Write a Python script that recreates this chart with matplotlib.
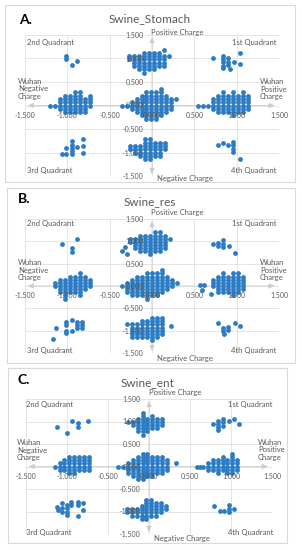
import matplotlib
matplotlib.use("Agg")
import matplotlib.pyplot as plt
from matplotlib.patches import Rectangle

plt.rcParams['font.family'] = ['Lato', 'DejaVu Sans']

W, H = 302, 550
DX, DY = 0.059, 0.07          # spacing of stacked dots in the grids below
BLUE = "#2b7cc4"
TXT = "#595959"
LINE = "#e0e0e0"

titles = ["Swine_Stomach", "Swine_res", "Swine_ent"]
letters = ["A.", "B.", "C."]
tick_values = [-1.5, -1.0, -0.5, 0.0, 0.5, 1.0, 1.5]
tick_labels = ["-1.500", "-1.000", "-0.500", "0.000", "0.500", "1.000", "1.500"]

# dense clusters: (x of first column, y of top row, rows) -- every "o" is one dot
a_grids = [
    (-0.27, 1.19, [".......o.", "...oooo..", "ooooooooo", "oooooooo.", ".ooooooo.",
                   ".ooooooo.", "..oooo...", "...o....."]),
    (-1.205, 0.28, [".....oo..", "...oooo.o", "..ooooooo", "..ooooooo", "ooooooooo",
                    "..oooooo.", "...ooooo."]),
    (-0.36, 0.35, ["........o...", ".....oooo...", "....oooooo..", "...ooooooooo",
                   "..ooooooooo.", "ooooooooooo.", "..ooooooooo.", "...ooooooo..",
                   "....ooooo...", ".....ooo...."]),
    (0.543, 0.28, [".....o.o.o.", "....ooooooo", "...oooooooo", "...oooooooo",
                   "ooooooooooo", "...oooooooo", "....oooooo.", ".......o..."]),
    (-0.26, -0.72, ["...oo...", "...ooooo", "oooooooo", "oooooooo", ".oooooo.",
                    "..ooooo.", "...oo..."]),
]
a_loose_x = [-1.01, -1.01, -0.95, -0.88,
             0.72, 0.84, 0.84, 0.84, 0.84, 0.84, 0.90, 0.90, 0.90, 0.92, 0.97, 1.04, 1.04,
             -1.067, -1.016, -1.016, -0.95, -0.95, -0.95, -0.95, -0.95, -0.89, -0.82, -0.82, -0.82,
             0.78, 0.84, 0.90, 0.96, 0.96, 0.96, 0.96, 1.04]
a_loose_y = [1.06, 0.99, 0.87, 0.94,
             1.0, 1.06, 0.99, 0.92, 0.85, 0.80, 1.0, 0.93, 0.86, 0.78, 0.93, 1.12, 0.88,
             -1.04, -0.90, -1.04, -0.76, -0.83, -0.90, -0.97, -1.04, -0.88, -0.72, -0.87, -1.01,
             -0.85, -0.79, -0.85, -0.78, -0.85, -0.92, -0.99, -1.13]

b_grids = [
    (-0.26, 1.20, [".....oo..", "..oooooo.", "ooooooooo", "oooooooo.", ".ooooooo.",
                   ".ooooooo.", "..ooooo..", "....o...."]),
    (-1.146, 0.28, [".....o..", "...oooo.", ".ooooooo", "oooooooo", "oooooooo",
                    ".oooooo.", ".ooooo..", "..o..o..", "..o....."]),
    (-0.35, 0.35, ["........o...", ".....oooo...", "...ooooooo..", "..ooooooooo.",
                   ".ooooooooooo", "ooooooooooo.", ".ooooooooo..", ".oooooooo...",
                   "..oooooo....", ".....o......"]),
    (0.72, 0.28, ["..o.oo.", ".oooooo", "ooooooo", "ooooooo", "ooooooo", ".oooooo",
                  ".ooooo.", "....o.."]),
    (-0.30, -0.72, [".....ooo", "...ooooo", "oooooooo", ".ooooooo", ".ooooooo",
                    ".ooooooo", ".oooooo.", ".....o.."]),
]
b_loose_x = [-1.067, -0.95, -0.95, -0.88, -0.36, -0.32, -0.29,
             0.72, 0.78, 0.78, 0.84, 0.84, 0.84, 0.91, 0.98,
             0.57, 0.62, 0.59, 0.70,
             -1.17, -1.13, -1.01, -1.01, -1.01, -1.01, -0.95, -0.95, -0.89, -0.89, -0.89,
             -0.83, -0.83, -0.83, 0.23,
             0.78, 0.84, 0.84, 0.85, 0.90, 0.90, 0.98, 1.04]
b_loose_y = [0.95, 0.84, 0.76, 1.06, 0.79, 0.87, 0.72,
             0.95, 0.89, 0.96, 1.02, 0.95, 0.88, 0.89, 0.75,
             0.03, 0.03, -0.10, -0.17,
             -1.18, -0.94, -0.80, -0.87, -1.0, -1.06, -0.76, -1.0, -0.80, -0.87, -0.94,
             -0.80, -0.87, -0.94, -0.89,
             -0.82, -0.93, -1.0, -1.07, -0.91, -0.98, -0.82, -0.89]

c_grids = [
    (-0.256, 1.20, ["...o....", "...o.o..", "..oooooo", "oooooooo", ".ooooooo",
                    "..ooooo.", "..ooo...", "...o...."]),
    (-1.15, 0.21, ["...ooooo", "..oooooo", ".ooooooo", "oooooooo", ".ooooooo", "...oo..."]),
    (-0.374, 0.28, [".....oo......", "....oooooo...", "...oooooooo..", "..ooooooooo.o",
                    "ooooooooooo..", "..ooooooooo..", "..oooooooo...", "...ooooo.....",
                    "....oo......."]),
    (0.72, 0.28, [".....o.", "...o.o.", ".oooooo", "ooooooo", "ooooooo", "ooooooo", "..o.oo."]),
    (-0.268, -0.74, ["....oo...", "....oooo.", "...oooooo", "ooooooooo", "oooooooo.",
                     ".oooooo..", "...oo...."]),
]
c_loose_x = [-1.12, -1.0, -0.94, -0.87, -0.87, -0.74,
             0.78, 0.84, 0.84, 0.84, 0.84, 0.90, 0.90, 0.90, 0.98, 1.04, 1.10,
             0.58, 0.62, 0.66,
             -1.12, -1.11, -1.06, -1.06, -1.06, -1.0, -1.0, -1.0, -1.0, -0.95, -0.95,
             -0.87, -0.87, -0.87, -0.80, -0.80,
             0.79, 0.86, 0.92, 0.98, 0.98, 0.98, 1.04]
c_loose_y = [0.88, 0.75, 1.01, 0.96, 0.88, 1.01,
             0.95, 1.01, 0.94, 0.87, 0.82, 1.05, 0.98, 0.91, 1.01, 1.05, 0.95,
             0.0, 0.0, 0.0,
             -0.89, -0.97, -0.82, -0.93, -1.0, -0.85, -0.93, -1.0, -1.07, -0.78, -0.85,
             -0.78, -0.85, -1.11, -0.82, -0.97,
             -0.88, -0.99, -0.99, -0.85, -0.95, -1.02, -0.94]

panel_data = [(a_grids, a_loose_x, a_loose_y),
              (b_grids, b_loose_x, b_loose_y),
              (c_grids, c_loose_x, c_loose_y)]

# layout in pixels: box, plot area (left, top, right, bottom), text anchors
layout = [
    dict(box=(5, 5, 295, 182), area=(25, 35, 279, 176), letter=(19, 20), title=(150, 19),
         pos=(177, 32), q2=(27, 43), q1=(276, 43), wneg=(18, 89), wpos=(260, 89),
         q3=(27, 170), q4=(276, 170), neg=(157, 178)),
    dict(box=(7, 188, 295, 363), area=(25, 219, 279, 353), letter=(18, 199), title=(150, 202),
         pos=(177, 213), q2=(27, 223), q1=(276, 223), wneg=(18, 270), wpos=(260, 270),
         q3=(27, 351), q4=(276, 351), neg=(157, 358)),
    dict(box=(8, 368, 287, 543), area=(26, 399, 272, 534), letter=(17, 380), title=(148, 383),
         pos=(175, 393), q2=(26, 404), q1=(273, 404), wneg=(17, 450), wpos=(258, 450),
         q3=(26, 532), q4=(273, 532), neg=(154, 539)),
]


def grid_xy(grids):
    xs, ys = [], []
    for x0, y0, rows in grids:
        for r, row in enumerate(rows):
            for c, ch in enumerate(row):
                if ch == "o":
                    xs.append(x0 + c * DX)
                    ys.append(y0 - r * DY)
    return xs, ys


fig = plt.figure(figsize=(W / 100, H / 100), dpi=100)


def ftext(p, s, **kw):
    fig.text(p[0] / W, 1 - p[1] / H, s, **kw)


for i, lay in enumerate(layout):
    bx0, by0, bx1, by1 = lay["box"]
    fig.patches.append(Rectangle((bx0 / W, 1 - by1 / H), (bx1 - bx0) / W, (by1 - by0) / H,
                                 transform=fig.transFigure, fill=False, ec="#d9d9d9", lw=0.8))
    l, t, r, b = lay["area"]
    ax = fig.add_axes([l / W, 1 - b / H, (r - l) / W, (b - t) / H])
    ax.set_xlim(-1.5, 1.5)
    ax.set_ylim(-1.5, 1.5)
    for v in tick_values:
        ax.axhline(v, color=LINE, lw=0.6, zorder=0)
        ax.axvline(v, color=LINE, lw=0.6, zorder=0)

    grids, lx, ly = panel_data[i]
    gx, gy = grid_xy(grids)
    ax.scatter(gx + lx, gy + ly, s=12, color=BLUE, linewidths=0, zorder=1)

    ax.spines['left'].set_position('zero')
    ax.spines['bottom'].set_position('zero')
    for sp in ax.spines.values():
        sp.set_visible(False)
    ax.set_xticks(tick_values)
    ax.set_xticklabels(tick_labels)
    ax.set_yticks(tick_values)
    ax.set_yticklabels(tick_labels)
    ax.tick_params(axis='x', length=0, pad=4.5, labelsize=5, labelcolor=TXT)
    ax.tick_params(axis='y', length=0, pad=6, labelsize=5, labelcolor=TXT)
    ax.set_axisbelow(False)

    arrow = dict(arrowstyle='<|-|>,head_length=0.35,head_width=0.15', color="#cccccc", lw=0.6,
                 shrinkA=0, shrinkB=0)
    ax.annotate('', xy=(1.45, 0), xytext=(-1.47, 0), arrowprops=arrow, zorder=0.5)
    ax.annotate('', xy=(0, 1.46), xytext=(0, -1.46), arrowprops=arrow, zorder=0.5)

    ftext(lay["letter"], letters[i], fontsize=10, fontweight='bold', color='black',
          ha='left', va='center')
    ftext(lay["title"], titles[i], fontsize=8.5, color=TXT, ha='center', va='center')
    ftext(lay["pos"], "Positive Charge", fontsize=5.5, color=TXT, ha='center', va='center')
    ftext(lay["neg"], "Negative Charge", fontsize=5.5, color=TXT, ha='left', va='center')
    ftext(lay["q2"], "2nd Quadrant", fontsize=5.5, color=TXT, ha='left', va='center')
    ftext(lay["q1"], "1st Quadrant", fontsize=5.5, color=TXT, ha='right', va='center')
    ftext(lay["q3"], "3rd Quadrant", fontsize=5.5, color=TXT, ha='left', va='center')
    ftext(lay["q4"], "4th Quadrant", fontsize=5.5, color=TXT, ha='right', va='center')
    ftext(lay["wneg"], "Wuhan\nNegative\nCharge", fontsize=5.5, color=TXT, ha='left',
          va='center', linespacing=1.1)
    ftext(lay["wpos"], "Wuhan\nPositive\nCharge", fontsize=5.5, color=TXT, ha='left',
          va='center', linespacing=1.1)

fig.savefig("out.png", dpi=100)
